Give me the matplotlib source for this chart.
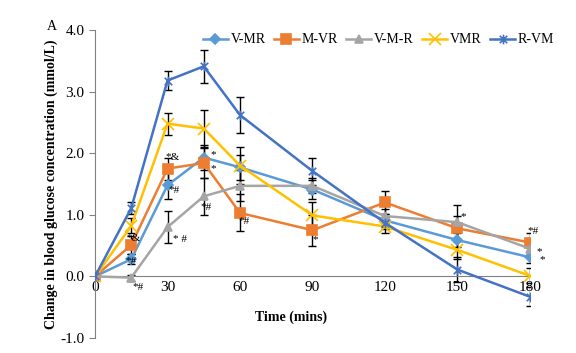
import matplotlib.pyplot as plt
from matplotlib.path import Path

plt.rcParams['font.family'] = ['Liberation Serif', 'DejaVu Serif']

time = [0, 15, 30, 45, 60, 90, 120, 150, 180]
series = ['V-MR', 'M-VR', 'V-M-R', 'VMR', 'R-VM']

v_mr = [0, 0.28, 1.48, 1.93, 1.77, 1.41, 0.91, 0.59, 0.31]
m_vr = [0, 0.51, 1.75, 1.84, 1.03, 0.75, 1.20, 0.78, 0.55]
v_m_r = [0, -0.02, 0.80, 1.30, 1.47, 1.47, 0.98, 0.88, 0.45]
vmr = [0, 0.82, 2.48, 2.40, 1.80, 0.99, 0.81, 0.43, 0.01]
r_vm = [0, 1.11, 3.18, 3.41, 2.62, 1.71, 0.87, 0.11, -0.33]

v_mr_err = [0, 0.08, 0.22, 0.2, 0.2, 0.15, 0.1, 0.12, 0.1]
m_vr_err = [0, 0.15, 0.18, 0.25, 0.3, 0.25, 0.18, 0.2, 0.15]
v_m_r_err = [0, 0.05, 0.26, 0.3, 0.25, 0.12, 0.12, 0.28, 0.1]
vmr_err = [0, 0.12, 0.18, 0.3, 0.3, 0.22, 0.1, 0.15, 0.12]
r_vm_err = [0, 0.1, 0.15, 0.27, 0.29, 0.22, 0.1, 0.2, 0.15]

# significance marks: (series, time, text, dx, dy in points)
marks = [
    ('M-VR', 15, '*&', 2, 5),
    ('V-MR', 15, '*#', 0, -2),
    ('V-M-R', 15, '*#', 5, -7),
    ('M-VR', 30, '*&', 4, 8),
    ('V-MR', 30, '*#', 5, -4),
    ('V-M-R', 30, '* #', 9, -9),
    ('V-MR', 45, '*', 7, 2),
    ('M-VR', 45, '*', 7, -4),
    ('V-M-R', 45, '*#', 2, -8),
    ('M-VR', 60, '*#', 3, -6),
    ('M-VR', 90, '*', 2, -7),
    ('V-M-R', 150, '*', 4, 4),
    ('M-VR', 180, '*#', 2, 8),
    ('V-M-R', 180, '*', 7, -2),
    ('V-MR', 180, '*', 9, -2),
]

# excel-style star marker: an x with a vertical stroke
star = Path([(-1, -1), (1, 1), (-1, 1), (1, -1), (0, -1.3), (0, 1.3)],
            [Path.MOVETO, Path.LINETO, Path.MOVETO, Path.LINETO, Path.MOVETO, Path.LINETO])

values = [v_mr, m_vr, v_m_r, vmr, r_vm]
errors = [v_mr_err, m_vr_err, v_m_r_err, vmr_err, r_vm_err]
colors = ['#5B9BD5', '#ED7D31', '#A5A5A5', '#FFC000', '#4472C4']
markers = ['D', 's', '^', 'x', star]
msizes = [5, 7, 6, 8, 7]

fig = plt.figure(figsize=(5.76, 3.53), dpi=100)
ax = fig.add_axes([0.165, 0.0425, 0.755, 0.8725])

for name, y, e in zip(series, values, errors):
    ax.errorbar(time, y, yerr=e, fmt='none', ecolor='black', elinewidth=1,
                capsize=3, capthick=1, zorder=2)
for name, y, c, m, ms in zip(series, values, colors, markers, msizes):
    ax.plot(time, y, color=c, marker=m, markersize=ms, linewidth=1.8,
            markeredgewidth=1.2, label=name, zorder=3)

for name, t, txt, dx, dy in marks:
    y = values[series.index(name)][time.index(t)]
    ax.annotate(txt, (t, y), xytext=(dx, dy), textcoords='offset points',
                fontsize=8, ha='center', va='center', zorder=4)

ax.set_xlim(0, 180)
ax.set_ylim(-1.0, 4.0)
ax.set_xticks([0, 30, 60, 90, 120, 150, 180])
ax.set_yticks([-1, 0, 1, 2, 3, 4])
ax.set_yticklabels(['-1.0', '0.0', '1.0', '2.0', '3.0', '4.0'])
ax.tick_params(axis='x', length=0, labelsize=11, pad=3)
ax.tick_params(axis='y', length=4, color='#808080', labelsize=11)
ax.spines['top'].set_visible(False)
ax.spines['right'].set_visible(False)
ax.spines['bottom'].set_position(('data', 0))
ax.spines['bottom'].set_color('#808080')
ax.spines['left'].set_color('#808080')
ax.text(0.45, -0.66, 'Time (mins)', transform=ax.get_yaxis_transform(),
        fontweight='bold', fontsize=10, ha='center', va='center')
ax.set_ylabel('Change in blood glucose concentration (mmol/L)',
              fontweight='bold', fontsize=10, labelpad=2)

ax.legend(loc='center left', bbox_to_anchor=(0.352, 0.887),
          bbox_transform=fig.transFigure, ncol=5, frameon=False,
          fontsize=10, handlelength=1.8, columnspacing=0.6, handletextpad=0.2,
          borderaxespad=0, borderpad=0)
fig.text(0.082, 0.915, 'A', fontsize=10)

fig.savefig('out.png', dpi=100)
